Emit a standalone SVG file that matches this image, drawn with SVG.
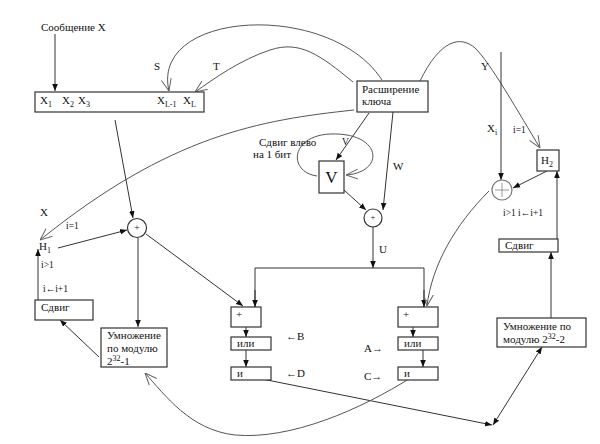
<svg xmlns="http://www.w3.org/2000/svg" width="600" height="444" viewBox="0 0 600 444" font-family="'Liberation Serif', serif">
<defs>
<marker id="fa" viewBox="0 0 10 10" refX="10" refY="5" markerWidth="7" markerHeight="7" orient="auto" markerUnits="userSpaceOnUse">
<path d="M0,1 L10,5 L0,9 Z" fill="#111"/>
</marker>
<marker id="fs" viewBox="0 0 10 10" refX="0" refY="5" markerWidth="7" markerHeight="7" orient="auto" markerUnits="userSpaceOnUse">
<path d="M10,1 L0,5 L10,9 Z" fill="#111"/>
</marker>
<marker id="oa" viewBox="0 0 12 12" refX="12" refY="6" markerWidth="12" markerHeight="12" orient="auto" markerUnits="userSpaceOnUse">
<path d="M0,1 L12,6 L0,11" fill="none" stroke="#666" stroke-width="1"/>
</marker>
</defs>
<style>
.b{fill:#fff;stroke:#333;stroke-width:1.2}
.t{font-family:'Liberation Serif',serif;font-size:11px;fill:#111}
.s{font-family:'Liberation Serif',serif;font-size:9.5px;fill:#111}
.u{font-size:8px}
.l{fill:none;stroke:#333;stroke-width:1}
.g{fill:none;stroke:#555;stroke-width:1}
</style>
<rect width="600" height="444" fill="#fff"/>

<g id="connectors">
<line class="l" x1="55" y1="34" x2="55" y2="91" marker-end="url(#fa)"/>
<path class="g" d="M382,80 C330,0 150,10 169,91" marker-end="url(#oa)"/>
<path class="g" d="M353,82 C320,55 300,40 270,50 C240,60 215,78 195,92" marker-end="url(#oa)"/>
<path class="g" d="M354,110 C260,120 170,135 40,240" marker-end="url(#oa)"/>
<line class="l" x1="115" y1="120" x2="133" y2="218" marker-end="url(#fa)"/>
<line class="l" x1="58" y1="248" x2="127" y2="230" marker-end="url(#fa)"/>
<line class="l" x1="38" y1="300" x2="38" y2="249" marker-end="url(#fa)"/>
<line class="l" x1="138" y1="238" x2="138" y2="327" marker-end="url(#fa)"/>
<line class="l" x1="99" y1="357" x2="60" y2="320" marker-end="url(#fa)"/>
<line class="l" x1="146" y1="234" x2="243" y2="306" marker-end="url(#fa)"/>
<line class="l" x1="246" y1="327" x2="246" y2="337" marker-end="url(#fa)"/>
<line class="l" x1="246" y1="350" x2="246" y2="367" marker-end="url(#fa)"/>
<line class="l" x1="413" y1="327" x2="413" y2="337" marker-end="url(#fa)"/>
<line class="l" x1="423" y1="350" x2="423" y2="367" marker-end="url(#fa)"/>
<line class="l" x1="373" y1="227" x2="373" y2="268" marker-end="url(#fa)"/>
<polyline class="l" points="255,307 255,268 424,268 424,307"/>
<line class="l" x1="255" y1="290" x2="255" y2="307" marker-end="url(#fa)"/>
<line class="l" x1="424" y1="290" x2="424" y2="307" marker-end="url(#fa)"/>
<line class="l" x1="369" y1="113" x2="336" y2="160" marker-end="url(#fa)"/>
<path class="g" d="M317,176 C288,172 290,136 330,134 C382,132 386,172 346,175" marker-end="url(#oa)"/>
<line class="l" x1="344" y1="190" x2="366" y2="210" marker-end="url(#fa)"/>
<line class="l" x1="393" y1="112" x2="383" y2="210" marker-end="url(#fa)"/>
<path class="g" d="M420,81 C440,40 460,35 475,48 C490,62 520,115 540,148" marker-end="url(#oa)"/>
<line class="l" x1="501" y1="52" x2="501" y2="180" marker-end="url(#fa)"/>
<line class="l" x1="547" y1="171" x2="513" y2="188" marker-end="url(#fa)"/>
<line class="l" x1="557" y1="239" x2="557" y2="171" marker-end="url(#fa)"/>
<line class="l" x1="551" y1="318" x2="551" y2="252" marker-end="url(#fa)"/>
<path class="g" d="M489,191 C455,225 432,265 427,306" marker-end="url(#oa)"/>
<line class="l" x1="247" y1="376" x2="492" y2="425" marker-end="url(#fa)"/>
<line class="l" x1="493" y1="425" x2="542" y2="347" marker-start="url(#fs)" marker-end="url(#fa)"/>
<path class="g" d="M412,377 C360,410 290,440 235,435 C190,430 165,395 145,373" marker-end="url(#oa)"/>
</g>

<g id="msg"><text class="t" x="41" y="31">Сообщение X</text></g>

<g id="xbox">
<rect class="b" x="35" y="92" width="169" height="20"/>
<text class="t" x="40" y="104">X<tspan class="u" dy="3">1</tspan></text>
<text class="t" x="62" y="104">X<tspan class="u" dy="3">2</tspan></text>
<text class="t" x="78" y="104">X<tspan class="u" dy="3">3</tspan></text>
<text class="t" x="157" y="104">X<tspan class="u" dy="3">L-1</tspan></text>
<text class="t" x="183" y="104">X<tspan class="u" dy="3">L</tspan></text>
</g>

<g id="key">
<rect class="b" x="357" y="81" width="71" height="31"/>
<text class="t" x="362" y="93">Расширение</text>
<text class="t" x="362" y="105">ключа</text>
</g>

<g id="labels">
<text class="t" x="154" y="70">S</text>
<text class="t" x="213" y="70">T</text>
<text class="t" x="40" y="216">X</text>
<text class="s" x="66" y="229">i=1</text>
<text class="s" x="41" y="268">i&gt;1</text>
<text class="s" x="43" y="292">i←i+1</text>
<text class="t" x="259" y="146">Сдвиг влево</text>
<text class="t" x="253" y="158">на 1 бит</text>
<text class="s" x="342" y="145">V</text>
<text class="t" x="393" y="170">W</text>
<text class="t" x="379" y="253">U</text>
<text class="t" x="481" y="70">Y</text>
<text class="t" x="487" y="132">X<tspan class="u" dy="3">i</tspan></text>
<text class="s" x="513" y="133">i=1</text>
<text class="s" x="503" y="216">i&gt;1  i←i+1</text>
<text class="t" x="286" y="340">←B</text>
<text class="t" x="286" y="377">←D</text>
<text class="t" x="364" y="352">A→</text>
<text class="t" x="364" y="380">C→</text>
</g>

<g id="h1"><text class="t" x="39" y="250">H<tspan class="u" dy="3">1</tspan></text></g>

<g id="sum1">
<circle class="b" cx="137" cy="228" r="9.5"/>
<text class="s" x="137" y="231" text-anchor="middle">+</text>
</g>

<g id="shift1">
<rect class="b" x="35" y="300" width="58" height="20"/>
<text class="t" x="41" y="311">Сдвиг</text>
</g>

<g id="mul1">
<rect class="b" x="101" y="328" width="66" height="39"/>
<text class="t" x="107" y="339">Умножение</text>
<text class="t" x="107" y="352">по модулю</text>
<text class="t" x="107" y="365">2<tspan class="u" dy="-4">32</tspan><tspan dy="4">-1</tspan></text>
</g>

<g id="vbox">
<rect class="b" x="319" y="161" width="25" height="32"/>
<text x="331.5" y="183" text-anchor="middle" style="font-family:'Liberation Serif',serif;font-size:17px;fill:#111">V</text>
</g>

<g id="sum2">
<circle class="b" cx="373" cy="218" r="9"/>
<text class="s" x="373" y="220" text-anchor="middle" style="font-size:8.5px">+</text>
</g>

<g id="plusL"><rect class="b" x="231" y="307" width="30" height="20"/><text class="t" x="236" y="318">+</text></g>
<g id="orL"><rect class="b" x="231" y="337" width="40" height="13"/><text class="t" x="237" y="347">или</text></g>
<g id="andL"><rect class="b" x="231" y="367" width="40" height="13"/><text class="t" x="237" y="377">и</text></g>

<g id="plusR"><rect class="b" x="398" y="307" width="40" height="20"/><text class="t" x="403" y="318">+</text></g>
<g id="orR"><rect class="b" x="398" y="337" width="40" height="13"/><text class="t" x="404" y="347">или</text></g>
<g id="andR"><rect class="b" x="398" y="367" width="40" height="13"/><text class="t" x="404" y="377">и</text></g>

<g id="h2">
<rect class="b" x="537" y="150" width="22" height="21"/>
<text class="t" x="541" y="164">H<tspan class="u" dy="3">2</tspan></text>
</g>

<g id="sum3">
<circle cx="502" cy="190" r="10" fill="#fff" stroke="#777" stroke-width="1.2"/>
<path d="M495,190 H509 M502,183 V197" stroke="#999" stroke-width="1"/>
</g>

<g id="shift2">
<rect class="b" x="499" y="239" width="59" height="13"/>
<text class="t" x="505" y="249">Сдвиг</text>
</g>

<g id="mul2">
<rect class="b" x="497" y="318" width="89" height="29"/>
<text class="t" x="503" y="330">Умножение по</text>
<text class="t" x="503" y="343">модулю 2<tspan class="u" dy="-4">32</tspan><tspan dy="4">-2</tspan></text>
</g>
</svg>
